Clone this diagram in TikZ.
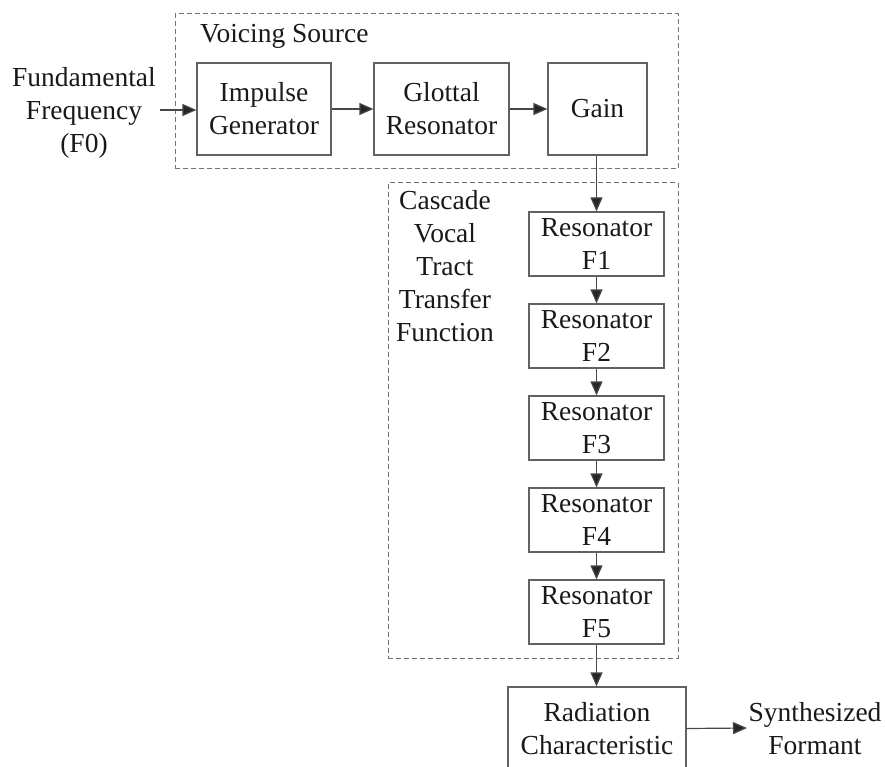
\documentclass[tikz,border=0pt]{standalone}
\usepackage{fontspec}
\setmainfont{Liberation Serif}
\usetikzlibrary{arrows.meta}
\begin{document}
\begin{tikzpicture}[x=1pt,y=-1pt,
  txt/.style={font=\fontsize{27.5}{33}\selectfont, align=center, inner sep=0pt, text=black!90},
  blk/.style={txt, draw=black!62, line width=1.2pt, minimum width=#1},
  grp/.style={draw=black!55, line width=1pt, dash pattern=on 5pt off 3pt, inner sep=0pt},
  flow/.style={draw=black!72, line width=1.2pt, -{Triangle[length=14pt,width=12pt,fill=black!85]}}
]
\useasboundingbox (0,0) rectangle (885,767);

% dashed groups
\node[grp, minimum width=503, minimum height=155] (voicing) at (426.5,91.5) {};
\node[grp, minimum width=290, minimum height=475] (cascade) at (533,420.5) {};
\node[txt, anchor=base west] (vlabel) at (200,43) {Voicing Source};
\node[txt] (clabel) at (445,266) {Cascade\\Vocal\\Tract\\Transfer\\Function};

% input and output labels
\node[txt] (f0) at (84,113) {Fundamental\\Frequency\\(F0)};
\node[txt] (synth) at (815,729) {Synthesized\\Formant};

% source chain
\node[blk=134, minimum height=92] (imp) at (264,109) {Impulse\\Generator};
\node[blk=135, minimum height=92] (glot) at (441.5,109) {Glottal\\Resonator};
\node[blk=99, minimum height=92] (gain) at (597.5,109) {Gain};

% resonator cascade
\node[blk=135, minimum height=64] (r1) at (596.5,244) {Resonator\\F1};
\node[blk=135, minimum height=64] (r2) at (596.5,336) {Resonator\\F2};
\node[blk=135, minimum height=64] (r3) at (596.5,428) {Resonator\\F3};
\node[blk=135, minimum height=64] (r4) at (596.5,520) {Resonator\\F4};
\node[blk=135, minimum height=64] (r5) at (596.5,612) {Resonator\\F5};

\node[blk=178, minimum height=83] (rad) at (597,728.5) {Radiation\\Characteristic};

% connectors
\coordinate (f0out) at (160,110);
\draw[flow] (f0out) -- (imp.west |- f0out);
\draw[flow] (imp) -- (glot);
\draw[flow] (glot) -- (gain);
\draw[flow] (gain.south -| r1.north) -- (r1);
\draw[flow] (r1) -- (r2);
\draw[flow] (r2) -- (r3);
\draw[flow] (r3) -- (r4);
\draw[flow] (r4) -- (r5);
\draw[flow] (r5) -- (r5.south |- rad.north);
\coordinate (outend) at (747,728);
\draw[flow] (rad.east) -- (outend);
\end{tikzpicture}
\end{document}
